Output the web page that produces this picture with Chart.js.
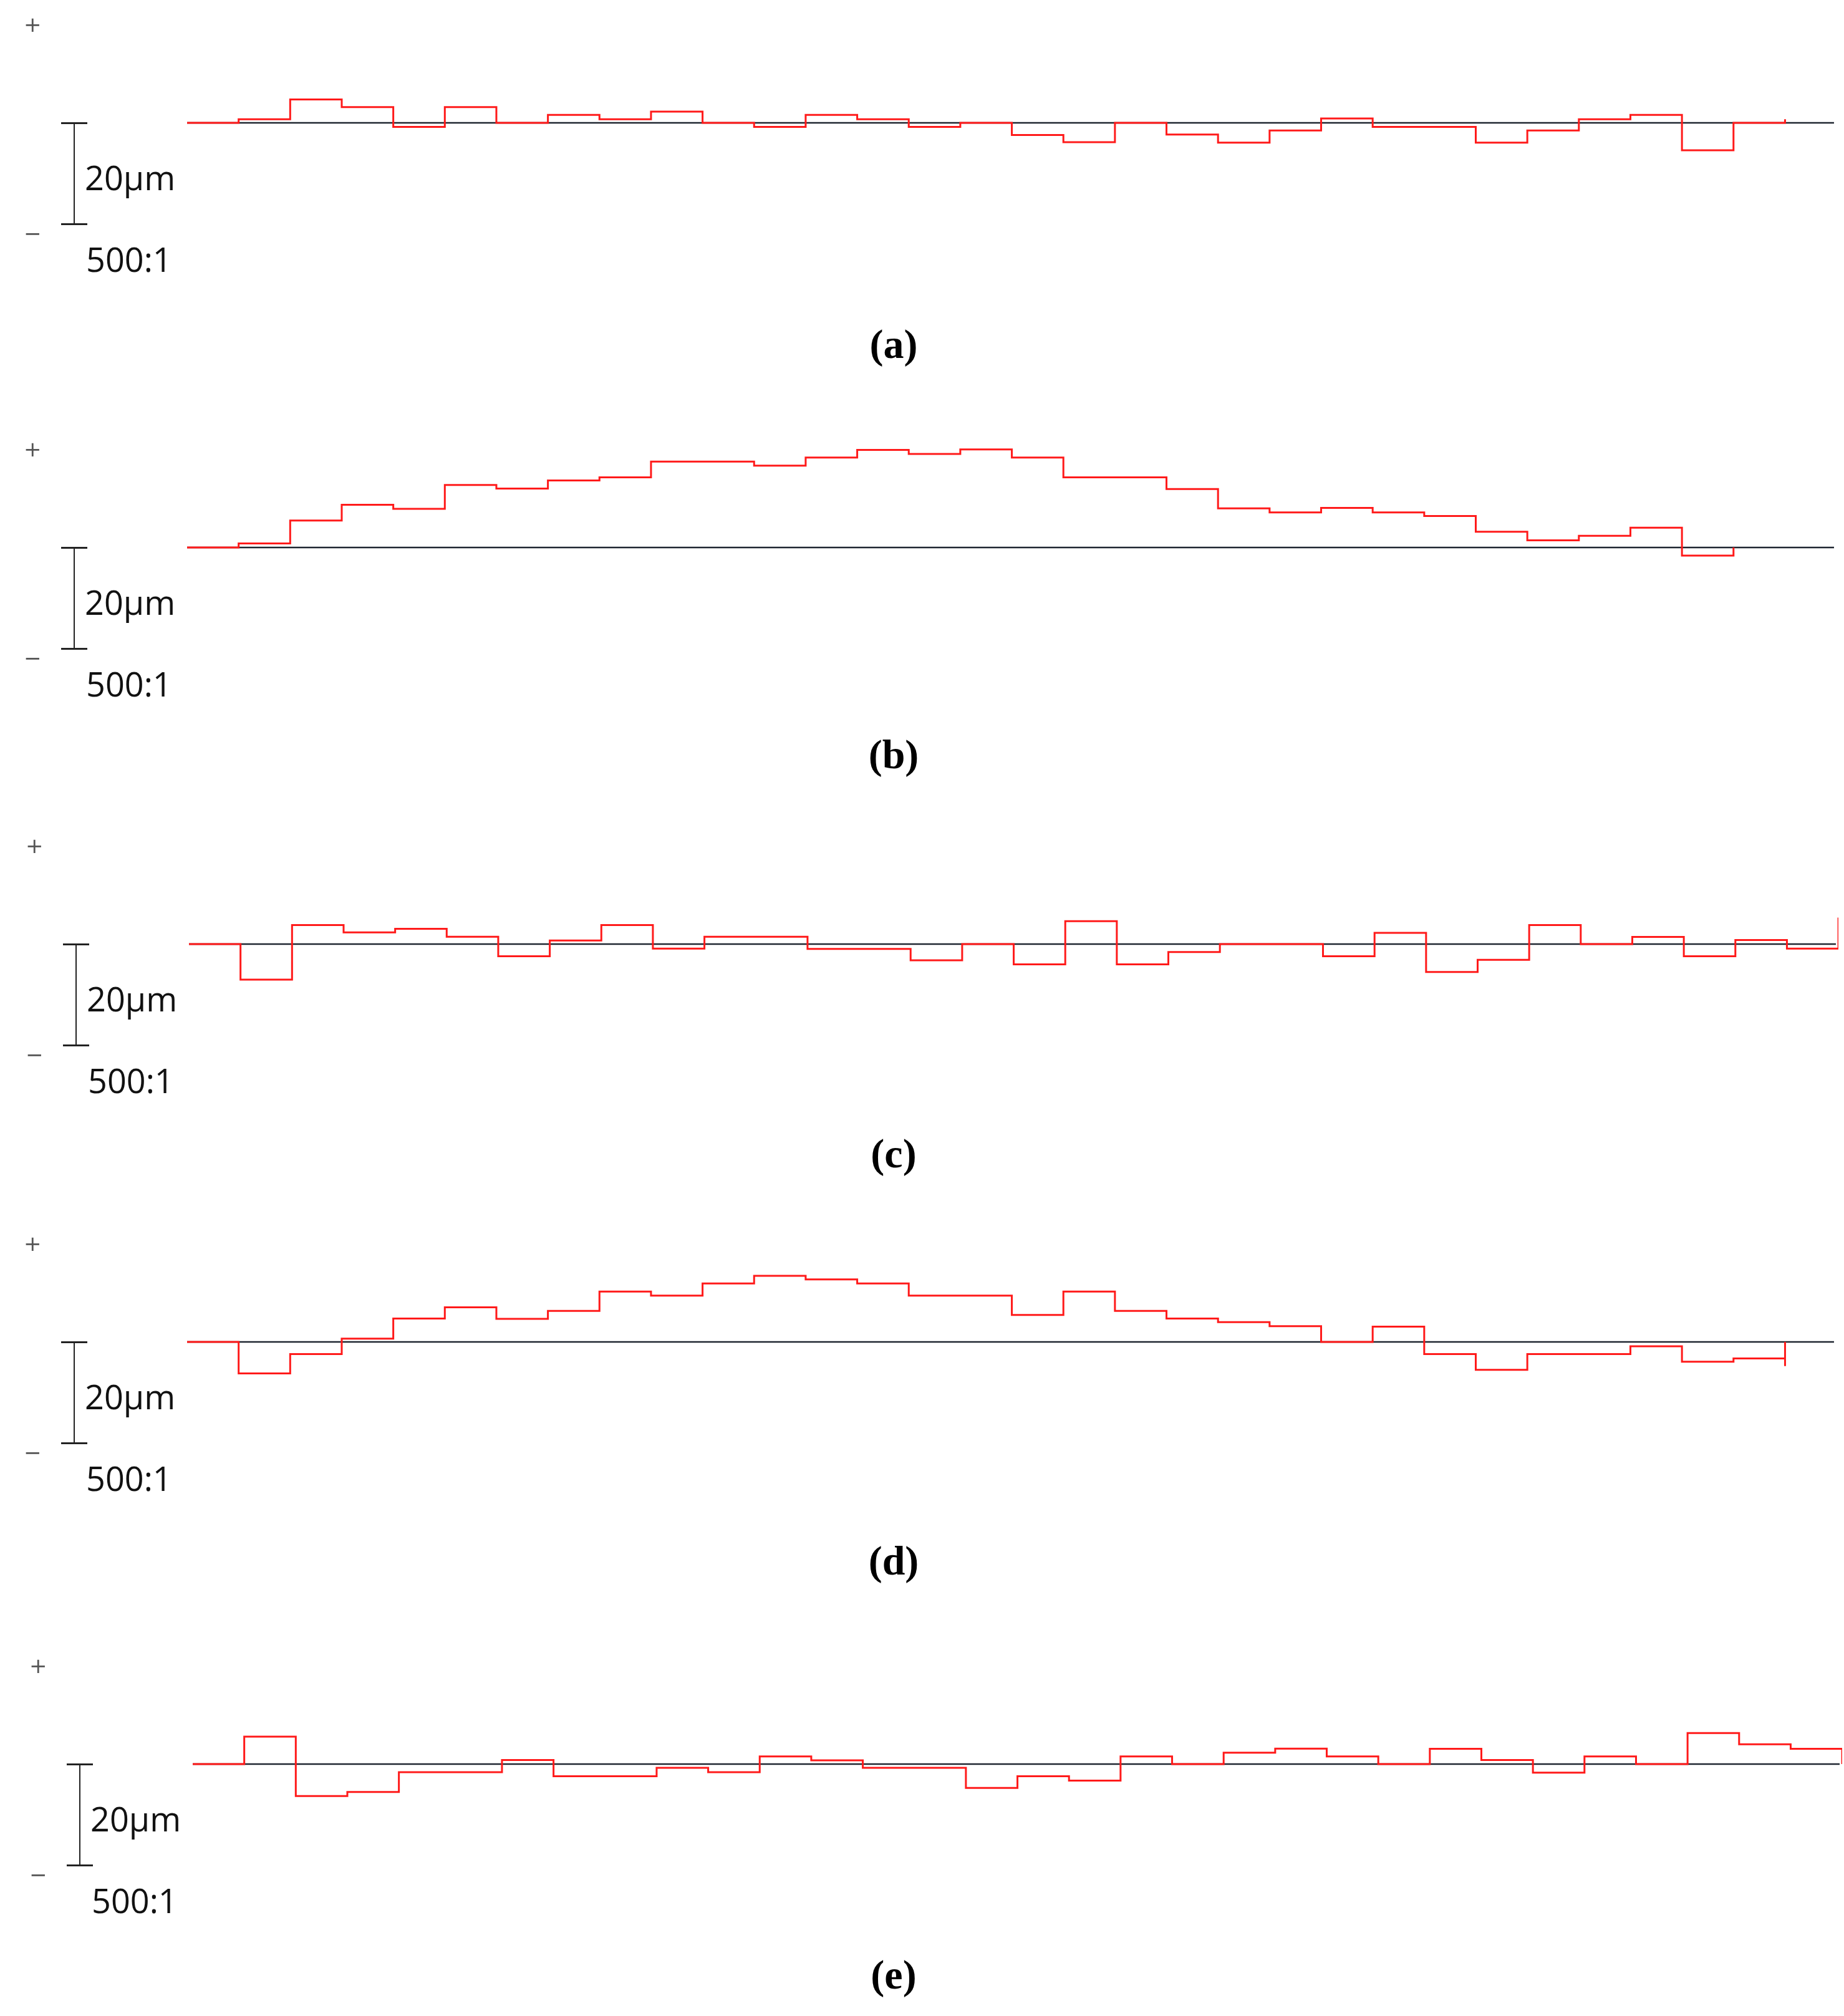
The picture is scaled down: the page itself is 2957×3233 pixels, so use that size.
<!DOCTYPE html>
<html>
<head>
<meta charset="utf-8">
<script src="https://cdn.jsdelivr.net/npm/chart.js@4"></script>
<style>
  body { margin: 0; background: #fff; width: 2957px; height: 3233px; position: relative; overflow: hidden; }
  canvas { position: absolute; left: 0; }
  .t { position: absolute; font-family: "Open Sans", sans-serif; color: #111; white-space: nowrap; }
  .pm { position: absolute; font-family: "DejaVu Sans", sans-serif; color: #555; font-size: 34px; line-height: 34px; }
  .lab { position: absolute; width: 300px; text-align: center; font-family: "Liberation Serif", serif; font-weight: bold; font-size: 66px; }
  .bar { position: absolute; background: #222; }
</style>
</head>
<body>
<script>
// profile deviations in µm, one value per segment
const panelLabels = ["(a)", "(b)", "(c)", "(d)", "(e)"];
const valuesA = [0.7, 4.6, 3.1, -0.8, 3.1, 0, 1.55, 0.7, 2.2, 0, -0.8, 1.55, 0.7, -0.8, 0, -2.4,
  -3.8, 0, -2.3, -3.9, -1.5, 0.85, -0.8, -0.8, -3.9, -1.5, 0.7, 1.55, -5.4, 0, 0.7];
const valuesB = [0.8, 5.3, 8.4, 7.6, 12.3, 11.6, 13.2, 13.8, 16.9, 16.9, 16.1, 17.7, 19.2, 18.4, 19.3,
  17.7, 13.8, 13.8, 11.5, 7.7, 6.9, 7.8, 6.9, 6.2, 3.1, 1.4, 2.3, 3.9, -1.6, -1.6];
const valuesC = [-7.0, 3.75, 2.3, 3.0, 1.45, -2.4, 0.7, 3.75, -0.9, 1.45, 1.45, -0.95, -0.95, -3.2,
  0, -4.0, 4.5, -4.0, -1.55, 0, 0, -2.4, 2.2, -5.5, -3.1, 3.75, 0, 1.4, -2.4, 0.8, -0.9, 5.2];
const valuesD = [-6.2, -2.4, 0.65, 4.6, 6.8, 4.55, 6.1, 9.9, 9.1, 11.5, 13.0, 12.3, 11.5, 9.1, 9.1,
  5.3, 9.9, 6.1, 4.6, 3.9, 3.1, 0, 3.0, -2.4, -5.5, -2.4, -2.4, -0.85, -3.9, -3.25, -4.75];
const valuesE = [5.4, -6.3, -5.5, -1.6, -1.6, 0.8, -2.4, -2.4, -0.75, -1.6, 1.5, 0.75, -0.75, -0.75,
  -4.7, -2.4, -3.25, 1.5, 0, 2.25, 3.05, 1.5, 0, 3.0, 0.8, -1.7, 1.5, 0, 6.1, 3.9, 3.0, 1.5];
const allValues = [valuesA, valuesB, valuesC, valuesD, valuesE];
const baselineEnd = 31.95;   // x extent of the reference line (segments)

// layout (page pixels)
const baseY = [197, 878, 1514, 2152, 2829];
const labelY = [554, 1212, 1852, 2505, 3169];
const plotLeft = [300, 300, 303, 300, 309];
const pxPerUm = 8.15;
const half = 200;
const slot = 82.66;

allValues.forEach((vals, p) => {
  const base = baseY[p];
  const left = plotLeft[p];
  const canvas = document.createElement("canvas");
  canvas.width = 2957;
  canvas.height = half * 2;
  canvas.style.top = (base - half) + "px";
  document.body.appendChild(canvas);

  // stepped 'before': segment [i, i+1] takes the value of point i+1
  const pts = [{ x: 0, y: 0 }];
  vals.forEach((v, i) => pts.push({ x: i + 1, y: v }));
  pts.push({ x: vals.length, y: 0 });

  const span = half / pxPerUm;
  new Chart(canvas, {
    type: "line",
    data: {
      datasets: [
        {
          data: pts,
          stepped: "before",
          borderColor: "#ff1a1a",
          borderWidth: 3,
          pointRadius: 0,
          order: 0,
        },
        {
          data: [{ x: 0, y: 0 }, { x: baselineEnd, y: 0 }],
          borderColor: "#1f2630",
          borderWidth: 2.5,
          pointRadius: 0,
          order: 1,
        },
      ],
    },
    options: {
      responsive: false,
      devicePixelRatio: 1,
      animation: false,
      layout: { padding: { left: left, right: 2957 - left - 32 * slot, top: 0, bottom: 0 } },
      plugins: { legend: { display: false }, tooltip: { enabled: false } },
      scales: {
        x: { type: "linear", min: 0, max: 32, display: false },
        y: { min: -span, max: span, display: false },
      },
    },
  });

  // scale bar and texts
  const bx = left - 182;
  const add = (cls, txt, css) => {
    const d = document.createElement("div");
    d.className = cls;
    d.textContent = txt;
    Object.assign(d.style, css);
    document.body.appendChild(d);
  };
  add("bar", "", { left: bx + "px", top: base + "px", width: "2px", height: "163px" });
  add("bar", "", { left: (bx - 20) + "px", top: (base - 1.5) + "px", width: "42px", height: "3px" });
  add("bar", "", { left: (bx - 20) + "px", top: (base + 161) + "px", width: "42px", height: "3px" });
  add("pm", "+", { left: (bx - 80) + "px", top: (base - 175) + "px" });
  add("pm", "\u2212", { left: (bx - 80) + "px", top: (base + 160) + "px" });
  add("t", "20µm", { left: (bx + 18) + "px", top: (base + 52) + "px", fontSize: "54px", lineHeight: "70px" });
  add("t", "500:1", { left: (bx + 20) + "px", top: (base + 183) + "px", fontSize: "54px", lineHeight: "70px" });
  add("lab", panelLabels[p], { left: (1433 - 150) + "px", top: (labelY[p] - 40) + "px" });
});
</script>
</body>
</html>
